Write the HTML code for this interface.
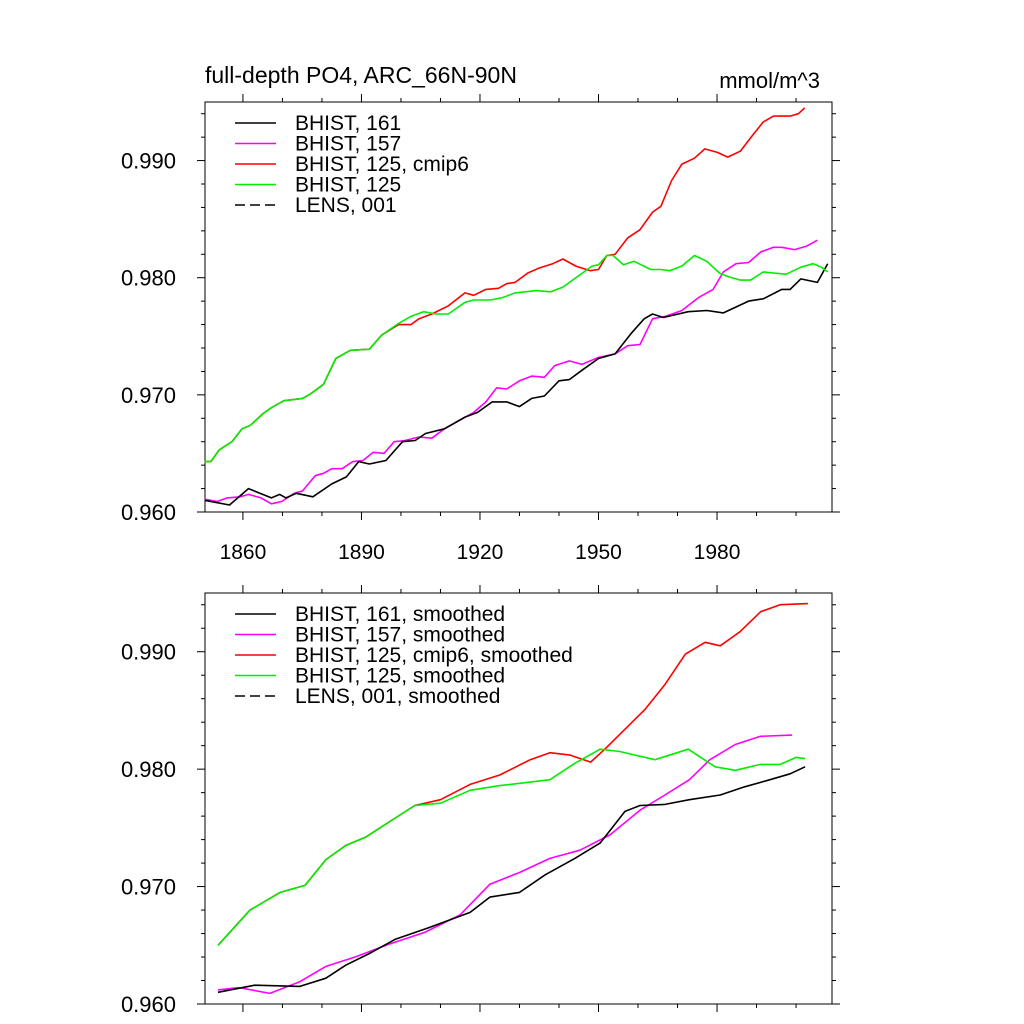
<!DOCTYPE html>
<html><head><meta charset="utf-8">
<style>
html,body{margin:0;padding:0;background:#fff;}
svg{display:block;font-family:"Liberation Sans",sans-serif;}
</style></head>
<body>
<svg id="chart" width="1024" height="1024" viewBox="0 0 1024 1024" xmlns="http://www.w3.org/2000/svg"></svg>
<script>
// ---- data (year, value) ----
const xTickLabels = ["1860","1890","1920","1950","1980"];
const yTickLabels = ["0.960","0.970","0.980","0.990"];
const xTickYears = [1860,1890,1920,1950,1980];
const yTickVals = [0.960,0.970,0.980,0.990];

const topBlackYears = [1850.3,1856.6,1861.4,1867.2,1869.3,1870.9,1873.5,1877.7,1882.5,1886.2,1889.3,1892,1896.2,1900.4,1903.6,1906.2,1911,1916.2,1919.4,1923.1,1926.8,1930,1933.1,1936.3,1940,1942.6,1945.8,1950,1954.2,1958.4,1961.6,1963.7,1966.4,1972.7,1977.4,1981.6,1984.8,1988,1991.7,1996.4,1998.5,2001.2,2005.4,2008];
const topBlackVals = [0.9610,0.9606,0.9620,0.9612,0.9615,0.9612,0.9616,0.9613,0.9624,0.9630,0.9643,0.9641,0.9644,0.9660,0.9661,0.9667,0.9671,0.9681,0.9685,0.9694,0.9694,0.9690,0.9697,0.9699,0.9712,0.9713,0.9721,0.9731,0.9735,0.9753,0.9765,0.9769,0.9766,0.9771,0.9772,0.9770,0.9775,0.9780,0.9782,0.9790,0.9790,0.9799,0.9796,0.9812];

const topMagYears = [1850.3,1853.5,1856,1859.3,1861.4,1864.6,1867.2,1869.8,1873,1875.1,1878.3,1880.4,1882.5,1885.1,1887.8,1890.4,1893,1895.7,1898.3,1901,1904.6,1907.8,1911,1915.2,1918.4,1921.5,1924.2,1926.8,1930,1933.1,1936.3,1938.9,1942.6,1945.8,1950,1954.2,1957.4,1960.5,1963.7,1966.9,1971.1,1975.3,1979,1981.6,1984.8,1988,1991.1,1994.3,1996.4,1999.6,2002.7,2005.4];
const topMagVals = [0.9611,0.9609,0.9612,0.9613,0.9615,0.9612,0.9607,0.9609,0.9616,0.9618,0.9631,0.9633,0.9637,0.9637,0.9643,0.9644,0.9651,0.9650,0.9660,0.9661,0.9664,0.9663,0.9671,0.9679,0.9685,0.9694,0.9706,0.9705,0.9712,0.9716,0.9715,0.9725,0.9729,0.9726,0.9732,0.9735,0.9742,0.9743,0.9765,0.9767,0.9772,0.9783,0.9790,0.9805,0.9812,0.9813,0.9822,0.9826,0.9826,0.9824,0.9827,0.9832];

const topGreenYears = [1850.3,1851.9,1854,1857.2,1859.8,1861.9,1865.1,1867.2,1870.4,1875.1,1877.2,1880.4,1883.5,1887.2,1892,1895.1,1899.4,1902.5,1905.7,1908.9,1912,1916.2,1918.4,1922.6,1925.7,1928.9,1934.2,1937.9,1941,1944.7,1948.4,1950,1952.1,1953.7,1956.3,1959,1963.2,1965.8,1968,1971.1,1974.3,1977.4,1980.6,1982.7,1985.9,1988.5,1991.7,1994.3,1997.5,2001.2,2004.3,2006.4,2008];
const topGreenVals = [0.9643,0.9643,0.9653,0.9660,0.9671,0.9674,0.9684,0.9689,0.9695,0.9697,0.9701,0.9709,0.9731,0.9738,0.9739,0.9751,0.9761,0.9767,0.9771,0.9769,0.9769,0.9779,0.9781,0.9781,0.9783,0.9787,0.9789,0.9788,0.9792,0.9801,0.9810,0.9811,0.9819,0.9819,0.9811,0.9814,0.9807,0.9807,0.9806,0.9810,0.9819,0.9814,0.9804,0.9801,0.9798,0.9798,0.9805,0.9804,0.9803,0.9809,0.9812,0.9809,0.9805];

const topRedYears = [1850.3,1851.9,1854,1857.2,1859.8,1861.9,1865.1,1867.2,1870.4,1875.1,1877.2,1880.4,1883.5,1887.2,1892,1895.1,1899.4,1902.5,1904.6,1907.8,1912,1916.2,1918.4,1921.5,1924.7,1926.8,1928.9,1932.1,1934.8,1938.4,1941,1944.2,1947.9,1950,1952.1,1954.2,1957.4,1960.5,1963.7,1965.8,1968.5,1971.1,1974.3,1976.9,1980.1,1982.7,1985.9,1989.1,1991.7,1994.3,1998.5,2000.6,2002.2];
const topRedVals = [0.9643,0.9643,0.9653,0.9660,0.9671,0.9674,0.9684,0.9689,0.9695,0.9697,0.9701,0.9709,0.9731,0.9738,0.9739,0.9751,0.9760,0.9760,0.9765,0.9769,0.9776,0.9787,0.9785,0.9790,0.9791,0.9795,0.9796,0.9804,0.9808,0.9812,0.9816,0.9810,0.9806,0.9807,0.9819,0.9820,0.9834,0.9841,0.9856,0.9861,0.9883,0.9897,0.9902,0.9910,0.9907,0.9903,0.9908,0.9922,0.9933,0.9938,0.9938,0.9940,0.9945];

const botBlackYears = [1853.7,1863,1874.4,1881,1886,1892,1898.5,1907,1917.5,1922.5,1930,1936.5,1944,1950.4,1956.7,1960.5,1966.8,1973,1980.8,1987,1993.4,1998.5,2002.3];
const botBlackVals = [0.9610,0.9616,0.9615,0.9622,0.9633,0.9643,0.9655,0.9665,0.9678,0.9691,0.9695,0.9710,0.9724,0.9737,0.9764,0.9769,0.9770,0.9774,0.9778,0.9785,0.9791,0.9796,0.9802];

const botMagYears = [1853.7,1859,1866.8,1874.4,1881,1888.4,1897,1906,1915,1922.5,1930,1937.7,1945.3,1952.9,1960.5,1966.8,1973,1978.2,1984.6,1991,1999];
const botMagVals = [0.9612,0.9614,0.9609,0.9619,0.9632,0.9640,0.9651,0.9661,0.9676,0.9702,0.9712,0.9724,0.9731,0.9744,0.9765,0.9778,0.9791,0.9808,0.9821,0.9828,0.9829];

const botGreenYears = [1853.7,1861.8,1869.4,1875.7,1881,1886,1891,1897,1903.5,1910,1917.5,1925,1932.7,1937.7,1944,1950.4,1955.4,1964.3,1972.7,1979.5,1984.6,1991,1996,2000,2002.3];
const botGreenVals = [0.9650,0.9680,0.9695,0.9701,0.9723,0.9735,0.9742,0.9755,0.9769,0.9771,0.9782,0.9786,0.9789,0.9791,0.9805,0.9817,0.9815,0.9808,0.9817,0.9802,0.9799,0.9804,0.9804,0.9810,0.9809];

const botRedYears = [1853.7,1861.8,1869.4,1875.7,1881,1886,1891,1897,1903.5,1910,1917.5,1925,1932.7,1937.7,1942.8,1948,1951.6,1956.7,1961.8,1966.8,1972,1977,1980.8,1985.8,1991,1996,2003];
const botRedVals = [0.9650,0.9680,0.9695,0.9701,0.9723,0.9735,0.9742,0.9755,0.9769,0.9774,0.9787,0.9795,0.9808,0.9814,0.9812,0.9806,0.9817,0.9834,0.9851,0.9872,0.9898,0.9908,0.9905,0.9917,0.9934,0.9940,0.9941];

const topLegend = ["BHIST, 161","BHIST, 157","BHIST, 125, cmip6","BHIST, 125","LENS, 001"];
const botLegend = ["BHIST, 161, smoothed","BHIST, 157, smoothed","BHIST, 125, cmip6, smoothed","BHIST, 125, smoothed","LENS, 001, smoothed"];

// ---- drawing ----
const NS = "http://www.w3.org/2000/svg";
const svg = document.getElementById('chart');
const X0 = 205, X1 = 832, XMIN = 1850.4, XMAX = 2009.1;
function xs(yr){ return X0 + (yr - XMIN) / (XMAX - XMIN) * (X1 - X0); }
function mk(tag, attrs, parent){ const e = document.createElementNS(NS, tag); for (const k in attrs) e.setAttribute(k, attrs[k]); (parent||svg).appendChild(e); return e; }

function panel(top, bottom, prefix, legend, series, showX){
  const g = mk('g', {});
  
  
  const VMIN = 0.960, VMAX = 0.995;
  const ys = v => bottom - (v - VMIN) / (VMAX - VMIN) * (bottom - top);
  const fr = mk('rect', {x:X0, y:top, width:X1-X0, height:bottom-top, fill:'none', stroke:'#000', 'stroke-width':1}, g);
  
  
  for (let yr = 1860; yr <= 2000; yr += 10) {
    const major = ((yr - 1860) % 30 === 0);
    const L = major ? 8 : 4;
    const x = xs(yr);
    mk('line', {x1:x, x2:x, y1:bottom, y2:bottom+L, stroke:'#000'}, g);
    mk('line', {x1:x, x2:x, y1:top, y2:top-L, stroke:'#000'}, g);
  }
  for (let i = 0; i <= 17; i++) {
    const v = 0.960 + i * 0.002;
    const major = (i % 5 === 0);
    const L = major ? 8 : 4;
    const y = ys(v);
    mk('line', {x1:X0, x2:X0-L, y1:y, y2:y, stroke:'#000'}, g);
    mk('line', {x1:X1, x2:X1+L, y1:y, y2:y, stroke:'#000'}, g);
  }
  yTickVals.forEach((v, i) => {
    const t = mk('text', {x:176, y:ys(v)+8, 'font-size':22, 'text-anchor':'end'}, g);
    t.textContent = yTickLabels[i];
    
    
  });
  if (showX) xTickYears.forEach((yr, i) => {
    const t = mk('text', {x:xs(yr), y:bottom+47, 'font-size':21, 'text-anchor':'middle'}, g);
    t.textContent = xTickLabels[i];
    
    
  });
  series.forEach(s => {
    const pts = s.years.map((yr, i) => xs(yr).toFixed(1) + ',' + ys(s.vals[i]).toFixed(1)).join(' ');
    const p = mk('polyline', {points:pts, fill:'none', stroke:s.color, 'stroke-width':1.6, 'stroke-linejoin':'round'}, g);
    
    
  });
  const colors = ['#000','#ff00ff','#ff0000','#00ee00','#000'];
  const ly0 = top + 21, dy = 20.5;
  legend.forEach((lab, i) => {
    const y = ly0 + i * dy;
    const ln = mk('line', {x1:235, x2:276, y1:y, y2:y, stroke:colors[i], 'stroke-width':1.5}, g);
    if (i === 4) ln.setAttribute('stroke-dasharray', '10,5');
    
    
    const t = mk('text', {x:295, y:y+7, 'font-size':21}, g);
    t.textContent = lab;
    
    
  });
}

panel(102, 512, 'top', topLegend, [
  {name:'bhist-157', years:topMagYears, vals:topMagVals, color:'#ff00ff'},
  {name:'bhist-161', years:topBlackYears, vals:topBlackVals, color:'#000000'},
  {name:'bhist-125-cmip6', years:topRedYears, vals:topRedVals, color:'#ff0000'},
  {name:'bhist-125', years:topGreenYears, vals:topGreenVals, color:'#00ee00'}
], true);
panel(593, 1004, 'bottom', botLegend, [
  {name:'bhist-157-smoothed', years:botMagYears, vals:botMagVals, color:'#ff00ff'},
  {name:'bhist-161-smoothed', years:botBlackYears, vals:botBlackVals, color:'#000000'},
  {name:'bhist-125-cmip6-smoothed', years:botRedYears, vals:botRedVals, color:'#ff0000'},
  {name:'bhist-125-smoothed', years:botGreenYears, vals:botGreenVals, color:'#00ee00'}
], false);

const title = mk('text', {x:205, y:83, 'font-size':23});
title.textContent = 'full-depth PO4, ARC_66N-90N';


const units = mk('text', {x:820, y:88, 'font-size':22, 'text-anchor':'end'});
units.textContent = 'mmol/m^3';


</script>
</body></html>
